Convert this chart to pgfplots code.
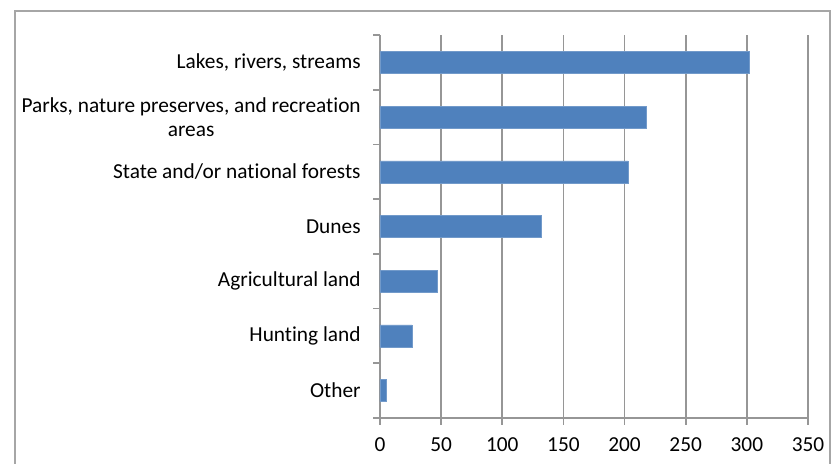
\documentclass[border=0pt]{standalone}
\usepackage{fontspec}
\setmainfont{Carlito}[Ligatures=NoCommon]
\usepackage{pgfplots}
\pgfplotsset{compat=1.18}

\definecolor{barblue}{HTML}{4F81BD}
\definecolor{gridgray}{HTML}{969696}
\definecolor{framegray}{HTML}{A6A6A6}

\begin{document}
\fontsize{16pt}{18pt}\selectfont
\begin{tikzpicture}
% page = 840 x 464 px, 1 px = 0.75pt, axis origin at px (380,418)
\begin{scope}[x=0.75pt,y=0.75pt]
  \useasboundingbox (-380,-46) rectangle (460,418);
  \clip (-380,-46) rectangle (460,418);
  \draw[framegray, line width=0.9pt] (-365,-80) rectangle (450,407);
\end{scope}
\begin{axis}[
    at={(0,0)}, anchor=south west,
    scale only axis,
    width=321pt, height=287.25pt,
    xbar, bar width=16.5pt,
    xmin=0, xmax=350,
    ymin=-0.5, ymax=6.5,
    xtick={0,50,...,350},
    ytick={0,1,...,6},
    yticklabels={Other, Hunting land, Agricultural land, Dunes,
        State and/or national forests,
        {Parks, nature preserves, and recreation\\areas},
        {Lakes, rivers, streams}},
    yticklabel style={align=center, font=\fontsize{16pt}{18pt}\selectfont, xshift=-9pt},
    xticklabel style={font=\fontsize{16pt}{18pt}\selectfont, yshift=-9pt},
    /pgf/number format/assume math mode=true,
    axis x line=bottom, axis y line=left,
    axis line style={-, gridgray, line width=1.2pt},
    xmajorgrids, major grid style={gridgray, line width=1.2pt},
    major tick length=0pt,
    extra x ticks={0,50,...,350}, extra x tick labels={},
    extra x tick style={major tick length=5pt, tick align=outside, tick style={gridgray, line width=1.2pt}, grid=none},
    extra y ticks={-0.5,0.5,...,6.5}, extra y tick labels={},
    extra y tick style={major tick length=5pt, tick align=outside, tick style={gridgray, line width=1.2pt}, grid=none},
    clip=false,
]
\addplot[fill=barblue, draw=barblue!80!white, line width=0.4pt] coordinates {
    (5.5,0)
    (26,1)
    (47,2)
    (131.5,3)
    (203,4)
    (218,5)
    (302,6)
};
\end{axis}
\end{tikzpicture}
\end{document}
